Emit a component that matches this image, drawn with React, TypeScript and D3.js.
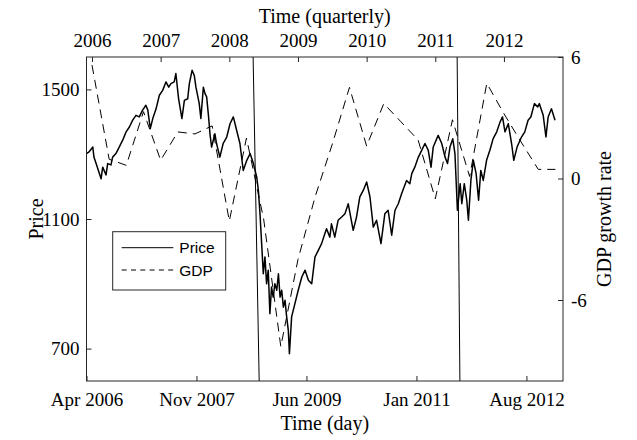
import * as d3 from 'd3';
import React, { useEffect, useRef } from 'react';

// trading-day index (from Apr 2006) and closing price
const priceDay = [
  1, 10, 24, 28, 36, 46, 54, 60, 72, 78, 90, 96, 108, 120, 133, 145, 157, 169, 181, 193,
  205, 217, 224, 233, 242, 254, 266, 278, 290, 300, 308, 320, 326, 336, 348, 357, 369, 375, 385, 393,
  399, 411, 417, 426, 432, 438, 445, 450, 456, 468, 474, 486, 498, 511, 523, 535, 547, 559, 571, 584,
  596, 608, 620, 626, 632, 638, 644, 650, 656, 662, 668, 674, 680, 686, 693, 699, 705, 711, 717, 723,
  729, 735, 739, 747, 759, 771, 784, 796, 808, 820, 832, 844, 856, 868, 874, 886, 892, 904, 916, 929,
  941, 953, 971, 983, 995, 1008, 1020, 1032, 1044, 1056, 1072, 1086, 1098, 1111, 1123, 1135, 1147, 1165, 1177, 1184,
  1195, 1208, 1220, 1232, 1244, 1254, 1262, 1280, 1293, 1305, 1314, 1323, 1333, 1341, 1350, 1360, 1366, 1375, 1384, 1390,
  1399, 1408, 1418, 1427, 1435, 1444, 1456, 1468, 1480, 1493, 1505, 1514, 1523, 1535, 1547, 1555, 1567, 1583, 1595, 1607,
  1617, 1630, 1642, 1648, 1662, 1672, 1680, 1692, 1705,
];
const priceValue = [
  1302, 1307, 1322, 1291, 1271, 1245, 1224, 1260, 1236, 1271, 1267, 1291, 1302, 1322, 1344, 1369, 1384, 1405, 1420, 1415,
  1436, 1451, 1436, 1379, 1410, 1440, 1482, 1497, 1523, 1507, 1518, 1523, 1549, 1471, 1410, 1466, 1471, 1518, 1559, 1543,
  1507, 1456, 1410, 1507, 1487, 1477, 1415, 1363, 1322, 1363, 1333, 1291, 1333, 1353, 1394, 1415, 1374, 1333, 1250, 1281,
  1302, 1271, 1230, 1189, 1116, 1024, 931, 983, 900, 942, 808, 890, 859, 900, 880, 931, 859, 880, 828, 849,
  798, 756, 684, 798, 839, 880, 921, 942, 911, 900, 983, 1003, 1024, 1055, 1070, 1044, 1085, 1044, 1096, 1106,
  1116, 1147, 1065, 1106, 1168, 1189, 1214, 1168, 1075, 1096, 1024, 1116, 1127, 1050, 1127, 1147, 1178, 1219, 1209, 1240,
  1260, 1291, 1312, 1333, 1312, 1260, 1322, 1358, 1333, 1291, 1271, 1322, 1348, 1302, 1127, 1209, 1147, 1209, 1158, 1096,
  1219, 1281, 1240, 1158, 1250, 1219, 1281, 1312, 1348, 1369, 1399, 1415, 1369, 1394, 1333, 1281, 1322, 1353, 1369, 1405,
  1415, 1456, 1446, 1456, 1420, 1353, 1415, 1440, 1405,
];

// quarterly GDP growth rate, 2006 Q1 .. 2012 Q4
const gdpStartYear = 2006;
const gdpValue = [
  5.6, 0.95, 0.65, 3.3,
  0.9, 2.3, 2.2, 2.6,
  -2.1, 2.0, -2.0, -8.3,
  -4.0, -0.9, 1.7, 4.5,
  1.6, 3.7, 2.8, 1.9,
  -1.0, 2.9, 0.1, 4.7,
  3.2, 1.8, 0.45, 0.45,
];

const yearTicks = [2006, 2007, 2008, 2009, 2010, 2011, 2012];
const dayTicks = [1, 401, 801, 1201, 1601];
const dayTickLabels = ['Apr 2006', 'Nov 2007', 'Jun 2009', 'Jan 2011', 'Aug 2012'];
const priceTicks = [700, 1100, 1500];
const gdpTicks = [-6, 0, 6];
// event markers: [day at top, day at bottom]
const eventLines = [[607, 629], [1349, 1359]];

const W = 637, H = 440;
const L = 86.5, R = 563, T = 57, B = 381;
const serif = '"Liberation Serif", "Times New Roman", serif';
const sans = '"Liberation Sans", Arial, sans-serif';
const ink = '#262626';

const App = () => {
  const ref = useRef<SVGSVGElement>(null);

  useEffect(() => {
    const svg = d3.select(ref.current);
    svg.selectAll('*').remove();

    const x = d3.scaleLinear().domain([1, 1734]).range([L, R]);
    const xq = d3.scaleLinear().domain([2005.92, 2012.86]).range([L, R]);
    const y = d3.scaleLinear().domain([600, 1600]).range([B, T]);
    const yg = d3.scaleLinear().domain([-10, 6]).range([B, T]);

    svg.append('clipPath').attr('id', 'plot')
      .append('rect').attr('x', L).attr('y', T).attr('width', R - L).attr('height', B - T);

    const g = svg.append('g').attr('clip-path', 'url(#plot)');

    // GDP dashed
    const gdpLine = d3.line<number>()
      .x((d, i) => xq(gdpStartYear + i / 4))
      .y(d => yg(d));
    g.append('path')
      .datum(gdpValue)
      .attr('d', gdpLine)
      .attr('fill', 'none')
      .attr('stroke', '#000')
      .attr('stroke-width', 1)
      .attr('stroke-dasharray', '9,6');

    // price
    const priceLine = d3.line<number>()
      .x((d, i) => x(priceDay[i]))
      .y(d => y(d));
    g.append('path')
      .datum(priceValue)
      .attr('d', priceLine)
      .attr('fill', 'none')
      .attr('stroke', '#000')
      .attr('stroke-width', 1.5)
      .attr('stroke-linejoin', 'round');

    // event lines
    g.selectAll('line.event')
      .data(eventLines)
      .enter().append('line')
      .attr('x1', d => x(d[0])).attr('y1', T)
      .attr('x2', d => x(d[1])).attr('y2', B)
      .attr('stroke', '#000')
      .attr('stroke-width', 1);

    const styleAxis = (sel: any) => {
      sel.select('.domain').remove();
      sel.selectAll('.tick line').attr('stroke', ink);
      sel.selectAll('.tick text').attr('font-family', serif).attr('font-size', 19).attr('fill', '#000');
    };

    svg.append('g').attr('transform', `translate(0,${B})`)
      .call(d3.axisBottom(x).tickValues(dayTicks).tickSize(-5).tickPadding(12)
        .tickFormat((d, i) => dayTickLabels[i]))
      .call(styleAxis);

    svg.append('g').attr('transform', `translate(0,${T})`)
      .call(d3.axisTop(xq).tickValues(yearTicks).tickSize(-5).tickPadding(10).tickFormat(d => String(d)))
      .call(styleAxis);

    svg.append('g').attr('transform', `translate(${L},0)`)
      .call(d3.axisLeft(y).tickValues(priceTicks).tickSize(-5).tickPadding(7).tickFormat(d => String(d)))
      .call(styleAxis);

    svg.append('g').attr('transform', `translate(${R},0)`)
      .call(d3.axisRight(yg).tickValues(gdpTicks).tickSize(-5).tickPadding(8).tickFormat(d => String(d)))
      .call(styleAxis);

    // frame
    svg.append('rect')
      .attr('x', L).attr('y', T).attr('width', R - L).attr('height', B - T)
      .attr('fill', 'none').attr('stroke', ink).attr('stroke-width', 1);

    // titles
    svg.append('text').attr('x', (L + R) / 2).attr('y', 23).attr('text-anchor', 'middle')
      .attr('font-family', serif).attr('font-size', 20).text('Time (quarterly)');
    svg.append('text').attr('x', (L + R) / 2).attr('y', 430).attr('text-anchor', 'middle')
      .attr('font-family', serif).attr('font-size', 20).text('Time (day)');
    svg.append('text').attr('transform', `translate(43,${(T + B) / 2}) rotate(-90)`).attr('text-anchor', 'middle')
      .attr('font-family', serif).attr('font-size', 20).text('Price');
    svg.append('text').attr('transform', `translate(611,${(T + B) / 2}) rotate(-90)`).attr('text-anchor', 'middle')
      .attr('font-family', serif).attr('font-size', 20).text('GDP growth rate');

    // legend
    const lg = svg.append('g');
    lg.append('rect').attr('x', 112.7).attr('y', 231.7).attr('width', 113).attr('height', 58.3)
      .attr('fill', '#fff').attr('stroke', ink).attr('stroke-width', 1);
    lg.append('line').attr('x1', 121.7).attr('x2', 173.3).attr('y1', 247.7).attr('y2', 247.7)
      .attr('stroke', '#000').attr('stroke-width', 1);
    lg.append('line').attr('x1', 121.7).attr('x2', 175).attr('y1', 270).attr('y2', 270)
      .attr('stroke', '#000').attr('stroke-width', 1).attr('stroke-dasharray', '5,4.3');
    lg.append('text').attr('x', 179.3).attr('y', 253).attr('font-family', sans).attr('font-size', 15.5).text('Price');
    lg.append('text').attr('x', 179.3).attr('y', 275.5).attr('font-family', sans).attr('font-size', 15.5).text('GDP');
  }, []);

  return (
    <svg ref={ref} width={W} height={H}
      style={{ position: 'absolute', left: 0, top: 0, background: '#fff' }} />
  );
};

export default App;
